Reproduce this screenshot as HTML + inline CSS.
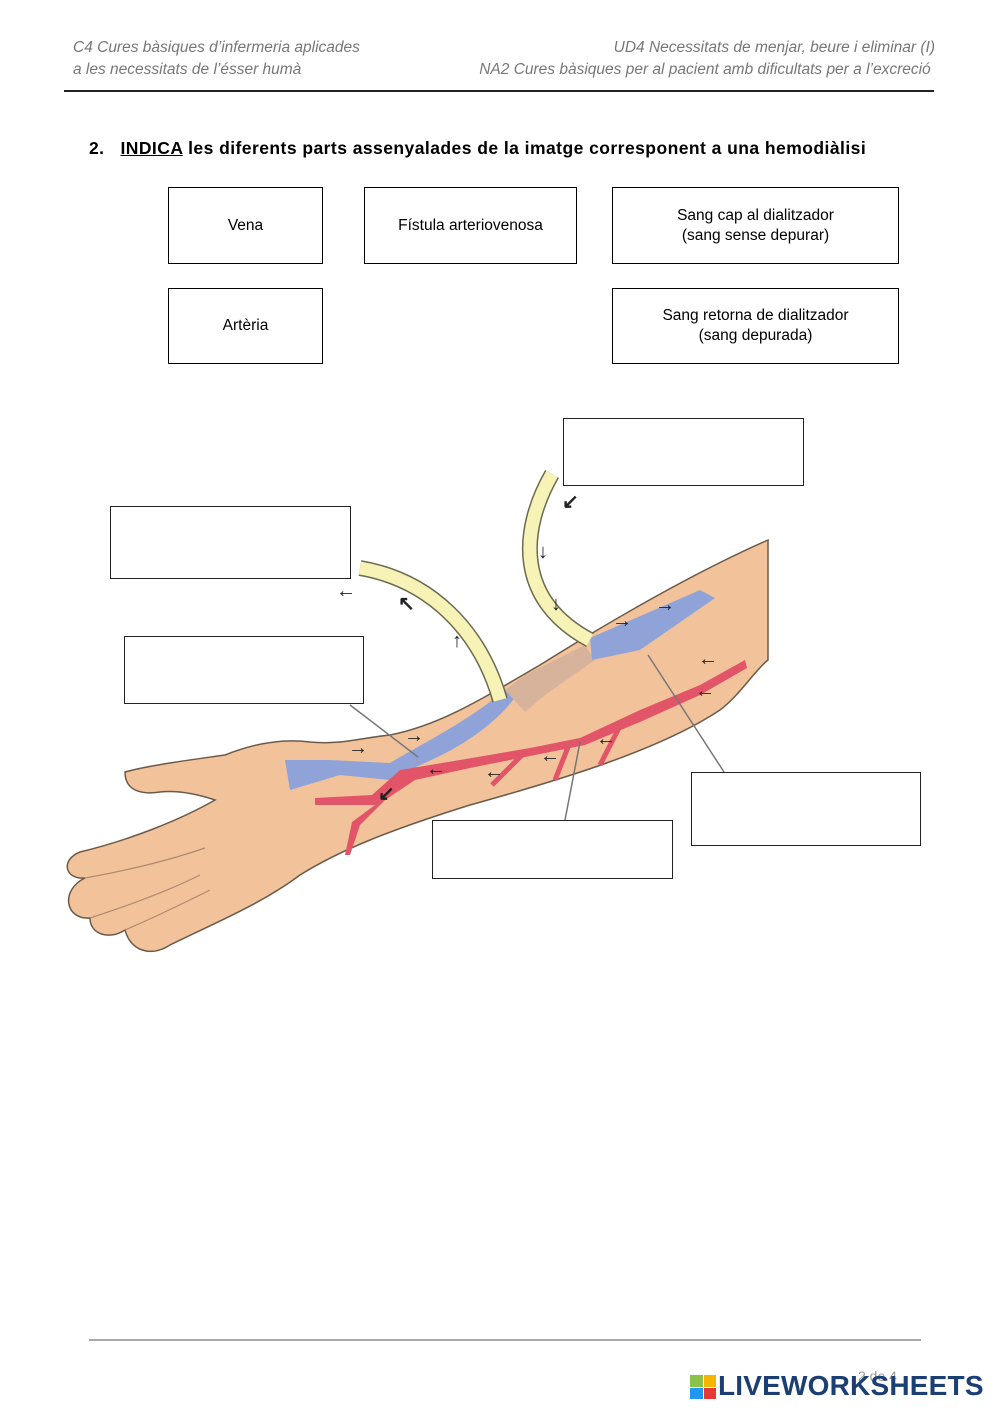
<!DOCTYPE html>
<html><head><meta charset="utf-8"><style>
body{margin:0;width:999px;height:1412px;background:#fff;position:relative;font-family:"Liberation Sans",sans-serif;overflow:hidden}
.h{position:absolute;color:#777;font-style:italic;font-size:15.5px;line-height:22px}
.b{position:absolute;border:1.5px solid #000;box-sizing:border-box;display:flex;align-items:center;justify-content:center;text-align:center;font-size:15.5px;line-height:20px;background:#fff}
.a{position:absolute;border:1px solid #222;box-sizing:border-box;background:#fff}
</style></head><body>
<div class="h" style="left:73px;top:37px">C4 Cures bàsiques d’infermeria aplicades<br>a les necessitats de l’ésser humà</div>
<div class="h" style="right:64px;top:37px;text-align:right">UD4 Necessitats de menjar, beure i eliminar (I)<br>NA2 Cures bàsiques per al pacient amb dificultats per a l’excreció&nbsp;</div>
<div style="position:absolute;left:64px;top:90px;width:870px;height:2px;background:#222"></div>
<div style="position:absolute;left:89px;top:138px;font-weight:bold;font-size:17.5px;letter-spacing:0.45px">2.&nbsp;&nbsp; <u>INDICA</u> les diferents parts assenyalades de la imatge corresponent a una hemodiàlisi</div>
<div class="b" style="left:168px;top:187px;width:155px;height:77px">Vena</div>
<div class="b" style="left:364px;top:187px;width:213px;height:77px">Fístula arteriovenosa</div>
<div class="b" style="left:612px;top:187px;width:287px;height:77px">Sang cap al dialitzador<br>(sang sense depurar)</div>
<div class="b" style="left:168px;top:288px;width:155px;height:76px">Artèria</div>
<div class="b" style="left:612px;top:288px;width:287px;height:76px">Sang retorna de dialitzador<br>(sang depurada)</div>
<svg style="position:absolute;left:0;top:0" width="999" height="1412">
<path d="M768,540 C700,570 620,615 540,665 C480,700 440,725 390,735 C360,738 340,745 310,742 C280,738 250,745 225,755 C190,760 150,765 125,772 C125,790 140,795 160,792 C180,790 200,795 215,800 C180,820 130,840 80,852 C60,860 65,880 85,878 C60,890 65,920 90,918 C90,935 110,940 125,930 C130,950 150,958 170,945 C210,925 260,905 300,875 C340,850 390,830 470,805 C560,780 660,750 720,710 C740,695 755,670 768,660 Z" fill="#f2c39b" stroke="#6b5a4a" stroke-width="1.5"/>
<g stroke="#b08870" stroke-width="1.2" fill="none"><path d="M85,878 C130,870 170,860 205,848"/><path d="M90,918 C130,905 170,890 200,875"/><path d="M125,930 C160,915 190,900 210,890"/></g>
<path d="M285,760 L330,760 L390,763 C420,745 470,720 505,690 L525,680 C515,705 480,740 420,765 L390,780 L340,775 L290,790 Z" fill="#8fa3d8"/>
<path d="M505,690 L525,675 L585,645 L595,660 L545,695 L525,712 Z" fill="#d8b39b"/>
<path d="M590,638 L700,590 L715,598 L640,650 L592,660 Z" fill="#8fa3d8"/>
<path d="M315,798 L372,795 L400,770 L460,760 L530,748 L580,738 L640,710 L700,685 L745,660 L747,668 L700,695 L640,722 L585,745 L535,755 L470,768 L415,780 L385,800 L360,825 L350,855 L345,855 L352,822 L375,805 L315,805 Z" fill="#e25468"/>
<g stroke="#e25468" stroke-width="5" fill="none"><path d="M525,752 L492,785"/><path d="M622,722 L600,765"/><path d="M570,742 L555,780"/></g>
<path d="M360,568 C430,580 480,630 500,700" stroke="#6b6b50" stroke-width="16" fill="none"/>
<path d="M360,568 C430,580 480,630 500,700" stroke="#f7f2b5" stroke-width="13" fill="none"/>
<path d="M552,474 C520,530 515,600 590,640" stroke="#6b6b50" stroke-width="16" fill="none"/>
<path d="M552,474 C520,530 515,600 590,640" stroke="#f7f2b5" stroke-width="13" fill="none"/>
<g stroke="#777" stroke-width="1.5"><line x1="350" y1="705" x2="418" y2="757"/><line x1="580" y1="742" x2="565" y2="820" /><line x1="648" y1="655" x2="724" y2="772"/></g>
<g fill="#222" font-size="20" font-weight="bold">
<text x="348" y="754">→</text><text x="404" y="742">→</text><text x="612" y="627">→</text><text x="655" y="611">→</text>
<text x="426" y="775">←</text><text x="484" y="778">←</text><text x="540" y="762">←</text><text x="596" y="745">←</text><text x="695" y="697">←</text><text x="698" y="665">←</text>
<text x="336" y="597">←</text><text x="562" y="508">↙</text><text x="538" y="558">↓</text><text x="551" y="610">↓</text><text x="452" y="647">↑</text><text x="398" y="610">↖</text><text x="378" y="800">↙</text>
</g>
</svg>
<div class="a" style="left:563px;top:418px;width:241px;height:68px"></div>
<div class="a" style="left:110px;top:506px;width:241px;height:73px"></div>
<div class="a" style="left:124px;top:636px;width:240px;height:68px"></div>
<div class="a" style="left:691px;top:772px;width:230px;height:74px"></div>
<div class="a" style="left:432px;top:820px;width:241px;height:59px"></div>
<div style="position:absolute;left:89px;top:1339px;width:832px;height:2px;background:#aaa"></div>
<div style="position:absolute;left:858px;top:1368px;font-size:14px;color:#999">2 de 4</div>
<div style="position:absolute;left:690px;top:1375px;width:26px;height:24px;display:grid;grid-template-columns:1fr 1fr;gap:1px">
<div style="background:#8bc34a"></div><div style="background:#f4b400"></div><div style="background:#2196f3"></div><div style="background:#e53935"></div></div>
<div style="position:absolute;left:718px;top:1370px;font-weight:bold;font-size:28px;color:#1c3f73;letter-spacing:0.2px">LIVEWORKSHEETS</div>
</body></html>
